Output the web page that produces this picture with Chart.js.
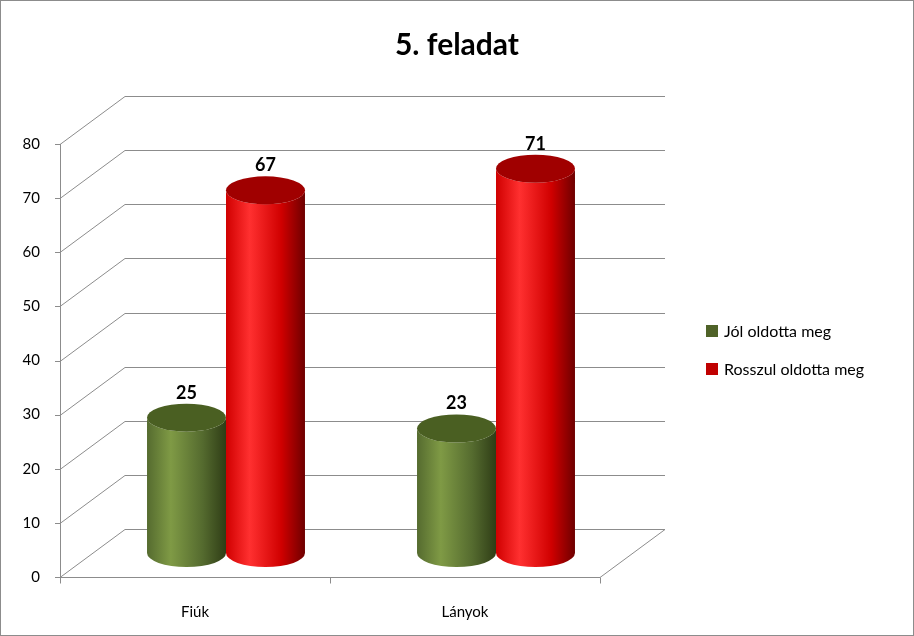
<!DOCTYPE html>
<html><head><meta charset="utf-8">
<script src="https://cdn.jsdelivr.net/npm/chart.js@4/dist/chart.umd.min.js"></script>
<style>html,body{margin:0;padding:0;background:#fff}#wrap{width:914px;height:636px;position:relative}</style>
</head><body><div id="wrap"><canvas id="c" width="914" height="636"></canvas></div>
<script>
const categories = ["Fiúk", "Lányok"];
const seriesNames = ["Jól oldotta meg", "Rosszul oldotta meg"];
const jol = [25, 23];
const rosszul = [67, 71];
const yTicks = [0,10,20,30,40,50,60,70,80];
const colors = [
  {light:"#7f9a45", mid:"#556b2f", dark:"#2f3d16", top:"#4a5f22", legend:"#4f6228"},
  {light:"#ff3030", mid:"#d00000", dark:"#6e0000", top:"#a00000", legend:"#c00000"}
];
const DX = 65, DY = 48, BX = 31, BY = 24;
const FONT = "Lato, 'Open Sans', sans-serif";

const deco = {
  id:'deco',
  beforeDatasetsDraw(chart){
    const ctx = chart.ctx, a = chart.chartArea, ys = chart.scales.y;
    ctx.save();
    ctx.strokeStyle = "#8c8c8c"; ctx.lineWidth = 1;
    yTicks.forEach(v=>{
      const y = Math.round(ys.getPixelForValue(v))+0.5;
      ctx.beginPath(); ctx.moveTo(a.left, y); ctx.lineTo(a.left+DX, y-DY); ctx.lineTo(a.right+DX, y-DY); ctx.stroke();
    });
    // floor
    const yb = Math.round(a.bottom)+0.5;
    ctx.beginPath(); ctx.moveTo(a.left, yb); ctx.lineTo(a.right, yb); ctx.lineTo(a.right+DX, yb-DY); ctx.stroke();
    // axis
    ctx.beginPath(); ctx.moveTo(a.left+0.5, ys.getPixelForValue(80)); ctx.lineTo(a.left+0.5, yb); ctx.stroke();
    yTicks.forEach(v=>{const y=Math.round(ys.getPixelForValue(v))+0.5;ctx.beginPath();ctx.moveTo(a.left-5,y);ctx.lineTo(a.left,y);ctx.stroke();});
    [a.left, (a.left+a.right)/2, a.right].forEach(x=>{x=Math.round(x)+0.5;ctx.beginPath();ctx.moveTo(x,yb);ctx.lineTo(x,yb+6);ctx.stroke();});
    ctx.restore();
  },
  afterDatasetsDraw(chart){
    const ctx = chart.ctx;
    ctx.save();
    chart.data.datasets.forEach((ds,di)=>{
      const meta = chart.getDatasetMeta(di), c = colors[di];
      meta.data.forEach((bar,i)=>{
        const w = bar.width, cx = bar.x + BX, x0 = cx - w/2, x1 = cx + w/2;
        const yt = bar.y - BY, ybot = bar.base - BY, ry = 14;
        const g = ctx.createLinearGradient(x0,0,x1,0);
        g.addColorStop(0,c.mid); g.addColorStop(0.3,c.light); g.addColorStop(0.7,c.mid); g.addColorStop(1,c.dark);
        ctx.fillStyle = g;
        ctx.beginPath();
        ctx.moveTo(x0, yt);
        ctx.lineTo(x0, ybot);
        ctx.ellipse(cx, ybot, w/2, ry, 0, Math.PI, 0, true);
        ctx.lineTo(x1, yt);
        ctx.ellipse(cx, yt, w/2, ry, 0, 0, Math.PI, false);
        ctx.closePath(); ctx.fill();
        ctx.fillStyle = c.top;
        ctx.beginPath(); ctx.ellipse(cx, yt, w/2, ry, 0, 0, Math.PI*2); ctx.fill();
        ctx.fillStyle = "#000"; ctx.font = "bold 18px "+FONT; ctx.textAlign="center"; ctx.textBaseline="bottom";
        ctx.fillText(String(ds.data[i]), cx, yt - ry - 2);
      });
    });
    // title
    ctx.fillStyle="#000"; ctx.font="bold 30px "+FONT; ctx.textAlign="center"; ctx.textBaseline="middle";
    ctx.fillText("5. feladat", 457, 45);
    // legend
    ctx.font="16px "+FONT; ctx.textAlign="left";
    seriesNames.forEach((n,k)=>{
      const y = 331 + k*38;
      ctx.fillStyle = colors[k].legend; ctx.fillRect(706, y-6, 12, 12);
      ctx.fillStyle = "#000"; ctx.fillText(n, 724, y+1);
    });
    // border
    ctx.strokeStyle="#8c8c8c"; ctx.strokeRect(0.5,0.5,913,635);
    ctx.restore();
  }
};

new Chart(document.getElementById('c'), {
  type:'bar',
  data:{labels:categories, datasets:[
    {label:seriesNames[0], data:jol, backgroundColor:'rgba(0,0,0,0)'},
    {label:seriesNames[1], data:rosszul, backgroundColor:'rgba(0,0,0,0)'}
  ]},
  options:{
    responsive:false, animation:false, devicePixelRatio:1,
    layout:{padding:{left:0,right:314,top:144,bottom:0}},
    datasets:{bar:{barPercentage:1, categoryPercentage:0.585}},
    plugins:{legend:{display:false}, tooltip:{enabled:false}},
    scales:{
      x:{grid:{display:false}, border:{display:false},
         ticks:{color:'#000', font:{family:FONT, size:15}, padding:18},
         afterFit(s){s.height=59;}},
      y:{min:0,max:80, grid:{display:false, drawTicks:false}, border:{display:false},
         ticks:{stepSize:10, color:'#000', font:{family:FONT, size:15}, padding:20},
         afterFit(s){s.width=60;}}
    }
  },
  plugins:[deco]
});
</script></body></html>
